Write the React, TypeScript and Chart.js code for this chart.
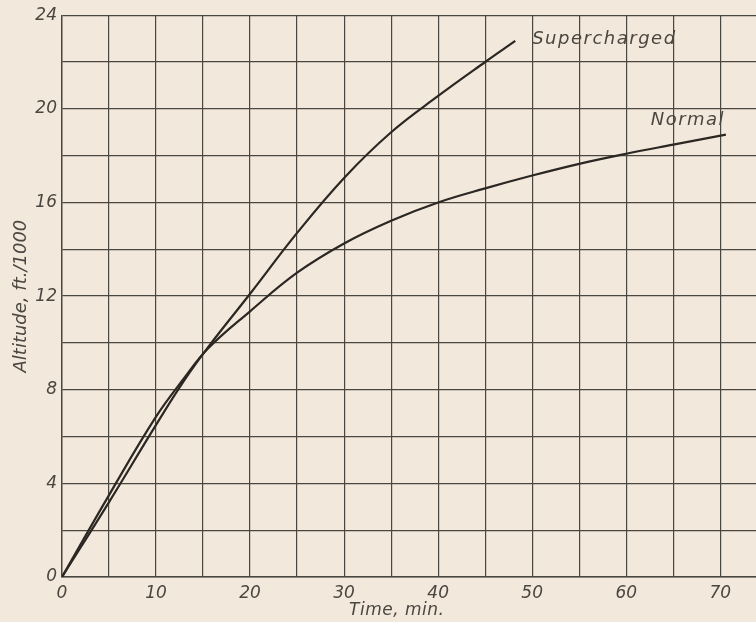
import React, { useEffect, useRef } from "react";
import { Chart, registerables } from "chart.js";

Chart.register(...registerables);

// Climb curves: time (min) vs altitude (ft./1000)
const normalTime = [0, 5, 10, 13, 15.5, 20, 25, 30, 35, 40, 45, 50, 55, 60, 65, 70.6];
const normalAltitude = [0, 3.5, 6.85, 8.5, 9.75, 11.35, 13.0, 14.25, 15.22, 16.0, 16.6, 17.15, 17.65, 18.08, 18.47, 18.9];

const superTime = [0, 5, 10, 13, 15.5, 20, 25, 30, 35, 40, 45, 48.2];
const superAltitude = [0, 3.2, 6.5, 8.4, 9.8, 12.1, 14.7, 17.05, 19.0, 20.55, 22.0, 22.9];

const xGridTicks = [0, 5, 10, 15, 20, 25, 30, 35, 40, 45, 50, 55, 60, 65, 70];
const xLabelledTicks = [0, 10, 20, 30, 40, 50, 60, 70];
const yLabelledTicks = [0, 4, 8, 12, 16, 20, 24];

const seriesNames = ["Normal", "Supercharged"];
// label anchors (data coordinates) for the curve names
const labelTime = [62.6, 50.0];
const labelAltitude = [19.5, 22.95];
const xTitle = "Time, min.";
const xTitleTime = 35.6;

const BG = "#f3e8dc";
const INK = "#2b2723";
const GRID = "#4a4740";
const TEXT = "#4a4640";
const FONT = '"DejaVu Sans", sans-serif';

export default function App() {
  const ref = useRef<HTMLCanvasElement | null>(null);

  useEffect(() => {
    document.body.style.margin = "0";
    document.body.style.background = BG;
    const canvas = ref.current;
    if (!canvas) return;

    const textPlugin = {
      id: "curveLabels",
      afterDatasetsDraw(chart: any) {
        const { ctx, scales } = chart;
        ctx.save();
        ctx.fillStyle = TEXT;
        ctx.font = `italic 200 18px ${FONT}`;
        (ctx as any).letterSpacing = "1.5px";
        ctx.textAlign = "left";
        ctx.textBaseline = "middle";
        seriesNames.forEach((name, i) => {
          ctx.fillText(name, scales.x.getPixelForValue(labelTime[i]), scales.y.getPixelForValue(labelAltitude[i]));
        });
        ctx.font = `italic 200 17px ${FONT}`;
        (ctx as any).letterSpacing = "0.5px";
        ctx.textAlign = "center";
        ctx.fillText(xTitle, scales.x.getPixelForValue(xTitleTime), 611);
        ctx.restore();
      },
    };

    const chart = new Chart(canvas, {
      type: "line",
      data: {
        datasets: [
          {
            label: seriesNames[0],
            data: normalTime.map((t, i) => ({ x: t, y: normalAltitude[i] })),
            borderColor: INK,
            borderWidth: 2.2,
            pointRadius: 0,
            tension: 0.4,
            fill: false,
          },
          {
            label: seriesNames[1],
            data: superTime.map((t, i) => ({ x: t, y: superAltitude[i] })),
            borderColor: INK,
            borderWidth: 2.2,
            pointRadius: 0,
            tension: 0.4,
            fill: false,
          },
        ],
      },
      options: {
        animation: false,
        responsive: false,
        maintainAspectRatio: false,
        layout: { padding: { top: 15, right: 0, left: 0, bottom: 0 } },
        plugins: { legend: { display: false }, tooltip: { enabled: false } },
        scales: {
          x: {
            type: "linear",
            min: 0,
            max: 73.8,
            afterBuildTicks: (axis: any) => {
              axis.ticks = xGridTicks.map((v) => ({ value: v }));
            },
            afterFit: (axis: any) => {
              axis.height = 45;
            },
            ticks: {
              autoSkip: false,
              maxRotation: 0,
              padding: 6,
              color: TEXT,
              font: { family: FONT, size: 17, style: "italic", weight: "200" as any },
              callback: (v: any) => (xLabelledTicks.includes(Number(v)) ? String(v) : ""),
            },
            grid: { color: GRID, lineWidth: 1.2, drawTicks: false },
            border: { color: GRID, width: 1.4 },
          },
          y: {
            type: "linear",
            min: 0,
            max: 24,
            afterFit: (axis: any) => {
              axis.width = 62;
            },
            ticks: {
              stepSize: 2,
              autoSkip: false,
              padding: 5,
              color: TEXT,
              font: { family: FONT, size: 17, style: "italic", weight: "200" as any },
              callback: (v: any) => (yLabelledTicks.includes(Number(v)) ? String(v) : ""),
            },
            grid: { color: GRID, lineWidth: 1.2, drawTicks: false },
            border: { color: GRID, width: 1.4 },
            title: {
              display: true,
              text: "Altitude, ft./1000",
              color: TEXT,
              font: { family: FONT, size: 18, style: "italic", weight: "200" as any },
              padding: { top: 11, bottom: 0 },
            },
          },
        },
      },
      plugins: [textPlugin],
    });

    return () => chart.destroy();
  }, []);

  return (
    <div style={{ position: "absolute", left: 0, top: 0, width: 756, height: 622, background: BG }}>
      <canvas ref={ref} width={756} height={622} style={{ display: "block", width: 756, height: 622 }} />
    </div>
  );
}
